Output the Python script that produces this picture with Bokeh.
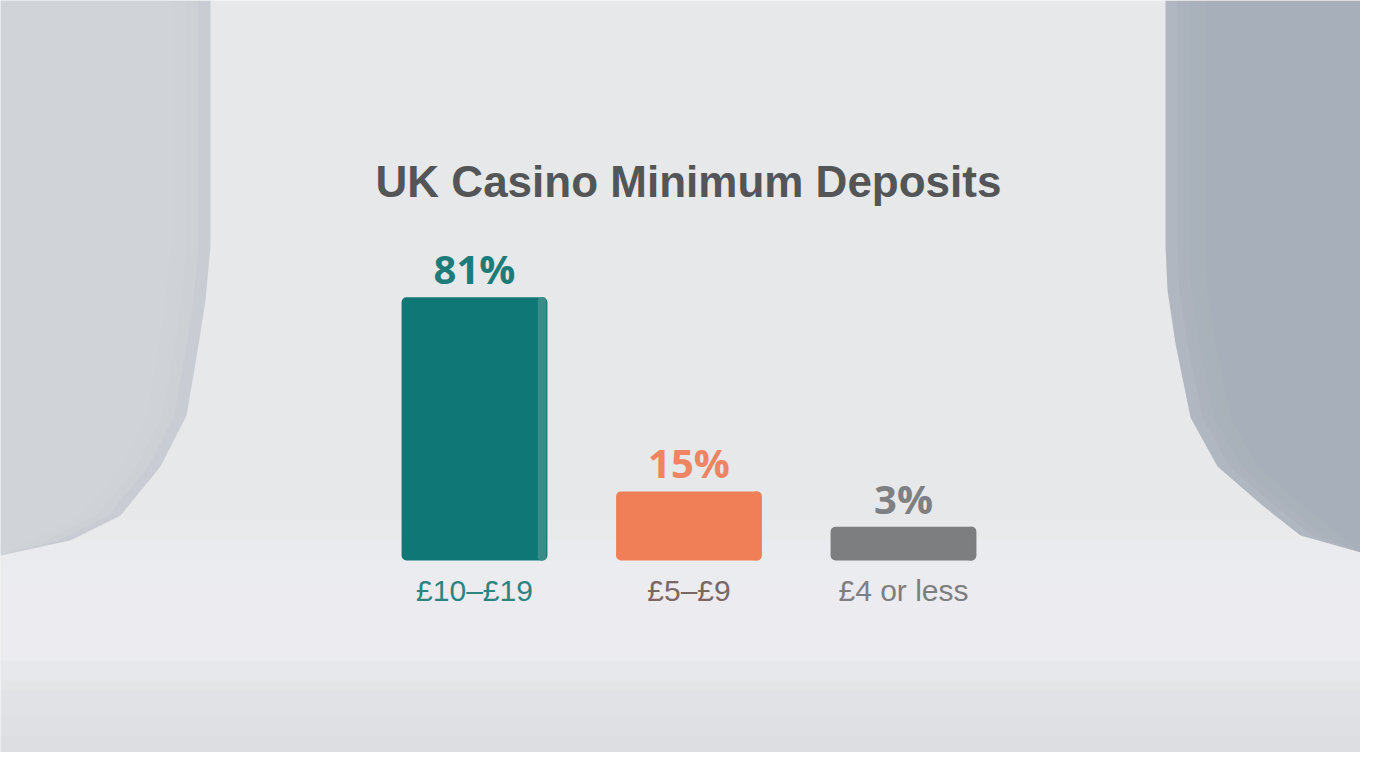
from bokeh.plotting import figure
from bokeh.models import ColumnDataSource, Range1d, LabelSet, Label, PolyAnnotation, BoxAnnotation
from bokeh.core.properties import value
from bokeh.transform import dodge
from bokeh.embed import file_html
from bokeh.resources import INLINE

# ---- data ----
categories = ["£10–£19", "£5–£9", "£4 or less"]
shares = [81, 15, 3]
value_labels = ["81%", "15%", "3%"]
bar_colors = ["#0f7876", "#f07f58", "#7c7e80"]
side_colors = ["#3a8c89", "#f07f58", "#7c7e80"]
value_colors = ["#1d7c79", "#ef8462", "#7f8081"]
cat_colors = ["#2e8481", "#7a6864", "#7d7e80"]
title_text = "UK Casino Minimum Deposits"

W, H = 1360, 752
BASE = -8.5  # visual block thickness below zero

idx = list(range(len(categories)))
src = ColumnDataSource(dict(
    x=idx, top=shares, bottom=[BASE] * len(shares), cat=categories,
    vlab=value_labels, bc=bar_colors, sc=side_colors, vc=value_colors, cc=cat_colors,
    base=[BASE] * len(shares),
))

px_x = 214.5
x0 = -474 / px_x
px_y = 2.94
y0 = BASE - (H - 560) / px_y

p = figure(width=W, height=H, output_backend="svg", toolbar_location=None,
           x_range=Range1d(x0, x0 + W / px_x), y_range=Range1d(y0, y0 + H / px_y),
           min_border=0, tools="")
p.axis.visible = False
p.grid.visible = False
p.outline_line_color = None
p.background_fill_color = "#e6e8ea"
p.border_fill_color = "#e6e8ea"

# ---- studio backdrop (decoration, screen units measured from bottom) ----
def fy(t):
    return H - t

def box(top, bottom, color, alpha):
    p.add_layout(BoxAnnotation(left=0, right=W, top=fy(top), bottom=fy(bottom),
                               left_units="screen", right_units="screen",
                               top_units="screen", bottom_units="screen",
                               fill_color=color, fill_alpha=alpha, line_color=None,
                               level="underlay"))

# soft floor: lighter in the middle, a touch darker at the very bottom
for t, a in [(520, 0.25), (540, 0.25), (560, 0.25), (580, 0.2)]:
    box(t, 680, "#f0f1f3", a)
for t, a in [(660, 0.2), (690, 0.25), (715, 0.3), (735, 0.3)]:
    box(t, H, "#d9dbde", a)

left_wall_x = [0, 210, 210, 205, 198, 186, 160, 120, 70, 0]
left_wall_y = [0, 0, 245, 300, 345, 415, 466, 515, 540, 555]
right_wall_x = [1165, 1360, 1360, 1300, 1262, 1217, 1190, 1175, 1167, 1165]
right_wall_y = [0, 0, 552, 535, 505, 466, 417, 343, 290, 245]

p.add_layout(PolyAnnotation(xs=left_wall_x, ys=[fy(v) for v in left_wall_y],
                            xs_units="screen", ys_units="screen", level="underlay",
                            fill_color="#c9cdd3", fill_alpha=1, line_color=None))
p.add_layout(PolyAnnotation(xs=right_wall_x, ys=[fy(v) for v in right_wall_y],
                            xs_units="screen", ys_units="screen", level="underlay",
                            fill_color="#b0b7c0", fill_alpha=1, line_color=None))
for k, a in [(12, 0.10), (24, 0.08), (40, 0.06)]:
    p.add_layout(PolyAnnotation(xs=[v - k if v > 0 else 0 for v in left_wall_x],
                                ys=[fy(v) for v in left_wall_y],
                                xs_units="screen", ys_units="screen", level="underlay",
                                fill_color="#f2f3f5", fill_alpha=a, line_color=None))
    p.add_layout(PolyAnnotation(xs=[v + k if v < W else W for v in right_wall_x],
                                ys=[fy(v) for v in right_wall_y],
                                xs_units="screen", ys_units="screen", level="underlay",
                                fill_color="#8e98a4", fill_alpha=a, line_color=None))

# ---- bars ----
p.vbar(x="x", top="top", bottom="bottom", width=0.68, fill_color="bc",
       line_color=None, source=src, border_radius=5)
p.vbar(x=dodge("x", 0.315, range=p.x_range), top="top", bottom="bottom", width=0.04,
       fill_color="sc", line_color=None, source=src, border_radius=4)

p.add_layout(LabelSet(x="x", y="top", text="vlab", source=src, text_align="center",
                      text_baseline="alphabetic", y_offset=13, text_color="vc",
                      text_font=value("Open Sans"), text_font_style="bold",
                      text_font_size="40px"))
p.add_layout(LabelSet(x="x", y="base", text="cat", source=src, text_align="center",
                      text_baseline="alphabetic", y_offset=-40, text_color="cc",
                      text_font=value("Liberation Sans"), text_font_size="30px"))

p.add_layout(Label(x=688, y=fy(181), x_units="screen", y_units="screen",
                   text=title_text, text_align="center", text_baseline="alphabetic",
                   text_font="Liberation Sans", text_font_style="bold",
                   text_font_size="44px", text_color="#535557"))

open("out.html", "w").write(file_html(p, INLINE))
